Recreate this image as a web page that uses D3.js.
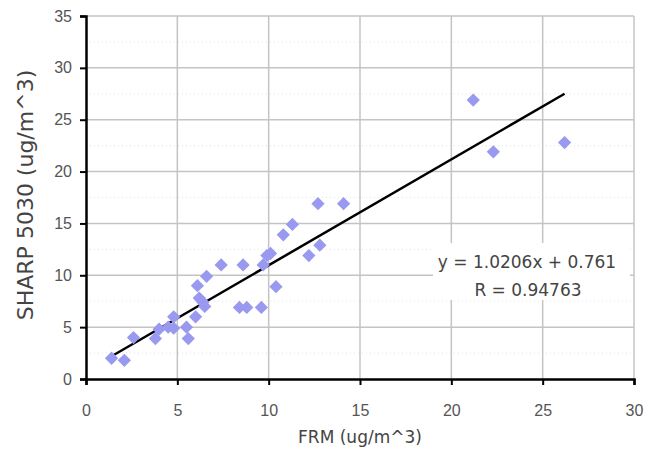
<!DOCTYPE html>
<html>
<head>
<meta charset="utf-8">
<script src="https://cdn.jsdelivr.net/npm/d3@7"></script>
<style>
  body { margin: 0; background: #fff; }
  svg { display: block; font-family: "DejaVu Sans", sans-serif; }
</style>
</head>
<body>
<svg width="648" height="452"></svg>
<script>
// FRM vs SHARP 5030 readings
const frm   = [1.4, 2.1, 2.6, 3.8, 4.0, 4.5, 4.8, 4.8, 5.5, 5.6, 6.0, 6.1, 6.2, 6.4, 6.5, 6.6, 7.4,
               8.4, 8.6, 8.8, 9.6, 9.7, 9.9, 10.1, 10.4, 10.8, 11.3, 12.2, 12.7, 12.8, 14.1,
               21.2, 22.3, 26.2];
const sharp = [2.0, 1.8, 4.0, 3.9, 4.8, 5.0, 6.0, 4.9, 5.0, 3.9, 6.0, 9.0, 7.8, 7.4, 7.0, 9.9, 11.0,
               6.9, 11.0, 6.9, 6.9, 11.0, 11.9, 12.1, 8.9, 13.9, 14.9, 11.9, 16.9, 12.9, 16.9,
               26.9, 21.9, 22.8];
const xTicks = [0, 5, 10, 15, 20, 25, 30];
const yTicks = [0, 5, 10, 15, 20, 25, 30, 35];
const slope = 1.0206, intercept = 0.761;
const eqLabel = 'y = 1.0206x + 0.761';
const rLabel = 'R = 0.94763';

const svg = d3.select('svg');
const margin = {top: 16, right: 14, bottom: 73, left: 86};
const innerWidth = 648 - margin.left - margin.right;
const innerHeight = 452 - margin.top - margin.bottom;

const x = d3.scaleLinear().domain([0, 30]).range([0, innerWidth]);
const y = d3.scaleLinear().domain([0, 35]).range([innerHeight, 0]);

const g = svg.append('g')
  .attr('transform', `translate(${margin.left},${margin.top})`);

// faint dotted minor lines
g.append('g').selectAll('line')
  .data(yTicks.slice(0, -1).map(d => d + 2.5))
  .enter().append('line')
  .attr('x1', 0).attr('x2', innerWidth)
  .attr('y1', d => y(d)).attr('y2', d => y(d))
  .attr('stroke', '#e4e4e4').attr('stroke-dasharray', '1,3');

// major gridlines
g.append('g').selectAll('line')
  .data(yTicks.slice(1))
  .enter().append('line')
  .attr('x1', 0).attr('x2', innerWidth)
  .attr('y1', d => y(d)).attr('y2', d => y(d))
  .attr('stroke', '#c4c4c4').attr('stroke-width', 1.5);
g.append('g').selectAll('line')
  .data(xTicks.slice(1))
  .enter().append('line')
  .attr('y1', 0).attr('y2', innerHeight)
  .attr('x1', d => x(d)).attr('x2', d => x(d))
  .attr('stroke', '#c4c4c4').attr('stroke-width', 1.5);

// axes
const xAxis = g.append('g')
  .attr('transform', `translate(0,${innerHeight})`)
  .call(d3.axisBottom(x).tickValues(xTicks).tickSize(6).tickPadding(20));
const yAxis = g.append('g')
  .call(d3.axisLeft(y).tickValues(yTicks).tickSize(6).tickPadding(8));
[xAxis, yAxis].forEach(a => {
  a.select('.domain').attr('stroke', '#000').attr('stroke-width', 2.5);
  a.selectAll('.tick line').attr('stroke', '#000').attr('stroke-width', 2);
  a.selectAll('.tick text').attr('fill', '#555').style('font-size', '16px');
});

// annotation box
const box = g.append('g').attr('transform', `translate(${433 - margin.left},${243 - margin.top})`);
box.append('rect')
  .attr('width', 197).attr('height', 57)
  .attr('fill', '#fff');
box.append('text')
  .attr('x', 94).attr('y', 25)
  .attr('text-anchor', 'middle')
  .attr('fill', '#444').style('font-size', '17px')
  .text(eqLabel);
box.append('text')
  .attr('x', 95).attr('y', 53)
  .attr('text-anchor', 'middle')
  .attr('fill', '#444').style('font-size', '17px')
  .text(rLabel);

// trendline over the data range
const xMin = d3.min(frm), xMax = d3.max(frm);
g.append('line')
  .attr('x1', x(xMin)).attr('y1', y(slope * xMin + intercept))
  .attr('x2', x(xMax)).attr('y2', y(slope * xMax + intercept))
  .attr('stroke', '#000').attr('stroke-width', 2.5);

// diamond points
const diamond = d3.symbol().type(d3.symbolSquare).size(88);
g.selectAll('path.pt').data(frm)
  .enter().append('path')
  .attr('class', 'pt')
  .attr('d', diamond)
  .attr('transform', (d, i) => `translate(${x(d)},${y(sharp[i])}) rotate(45)`)
  .attr('fill', '#9999f0');

// axis titles
svg.append('text')
  .attr('x', margin.left + x(15)).attr('y', 443)
  .attr('text-anchor', 'middle')
  .attr('fill', '#444').style('font-size', '17px')
  .text('FRM (ug/m^3)');
svg.append('text')
  .attr('transform', 'translate(33,195) rotate(-90)')
  .attr('text-anchor', 'middle')
  .attr('fill', '#444').style('font-size', '22px')
  .text('SHARP 5030 (ug/m^3)');
</script>
</body>
</html>
